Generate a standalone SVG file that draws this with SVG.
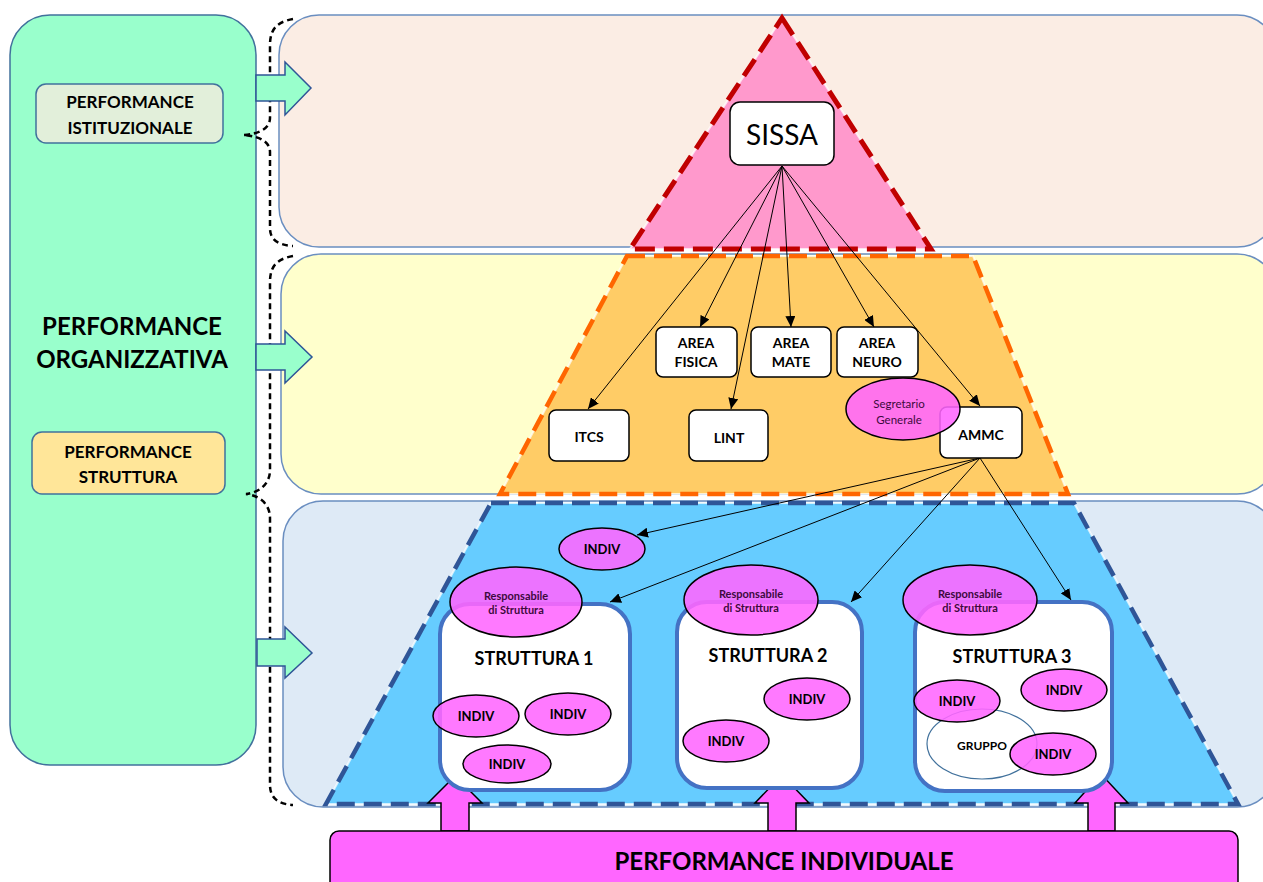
<svg xmlns="http://www.w3.org/2000/svg" width="1263" height="882" viewBox="0 0 1263 882">
<defs>
<marker id="ah" markerUnits="userSpaceOnUse" markerWidth="11" markerHeight="10" refX="11" refY="5" orient="auto">
<path d="M0,0 L11,5 L0,10 z" fill="#000"/>
</marker>
<style>
.t{font-family:Lato,"Liberation Sans",sans-serif;fill:#000;text-anchor:middle;dominant-baseline:central}
.b{font-weight:bold}
.band{stroke:#6a8ec0;stroke-width:1.5}
.garrow{fill:#99FFCC;stroke:#2F5597;stroke-width:1.5}
.parrow{fill:#FF66FF;stroke:#000;stroke-width:1.5}
.box{fill:#fff;stroke:#000;stroke-width:1.5}
.pink{fill:#FF66FF;fill-opacity:0.88;stroke:#000;stroke-width:1.5}
.str{fill:#fff;stroke:#4472C4;stroke-width:4}
.conn{stroke:#000;stroke-width:1;fill:none;marker-end:url(#ah)}
.brace{fill:none;stroke:#000;stroke-width:2.5;stroke-dasharray:6 4}
.purp{fill:#3d0a3d}
</style>
</defs>
<rect width="1263" height="882" fill="#fff"/>

<g id="background">
<rect class="band" x="279" y="15" width="998" height="232" rx="40" fill="#FBEDE4"/>
<rect class="band" x="281" y="254" width="996" height="240" rx="40" fill="#FFFFCC"/>
<rect class="band" x="283" y="501" width="994" height="306" rx="40" fill="#DEEAF6"/>
<polygon points="782,18 931,249 630,249" fill="#FF99CC"/>
<polygon points="782,18 931,249 630,249" fill="none" stroke="#fff" stroke-width="2" stroke-opacity="0.7"/>
<polygon points="782,18 931,249 630,249" fill="none" stroke="#C00000" stroke-width="5" stroke-dasharray="20 9"/>
<polygon points="627,256 973,256 1068,494 500,494" fill="#FFCC66"/>
<polygon points="627,256 973,256 1068,494 500,494" fill="none" stroke="#fff" stroke-width="2" stroke-opacity="0.7"/>
<polygon points="627,256 973,256 1068,494 500,494" fill="none" stroke="#FF6600" stroke-width="4.5" stroke-dasharray="18 9"/>
<polygon points="491,503 1074,503 1238,804 326,804" fill="#66CCFF"/>
<polygon points="491,503 1074,503 1238,804 326,804" fill="none" stroke="#fff" stroke-width="2" stroke-opacity="0.7"/>
<polygon points="491,503 1074,503 1238,804 326,804" fill="none" stroke="#2F5597" stroke-width="4.5" stroke-dasharray="18 9"/>
</g>

<g id="performance-organizzativa">
<rect x="10" y="15" width="246" height="750" rx="40" fill="#99FFCC" stroke="#41719C" stroke-width="1.5"/>
<text class="t b" x="132" y="325" font-size="24">PERFORMANCE</text>
<text class="t b" x="132" y="358" font-size="24">ORGANIZZATIVA</text>
</g>
<g id="performance-istituzionale">
<rect x="36" y="84" width="187" height="59" rx="10" fill="#E2EFDA" stroke="#41719C" stroke-width="1.5"/>
<text class="t b" x="130" y="101" font-size="17">PERFORMANCE</text>
<text class="t b" x="130" y="127" font-size="17">ISTITUZIONALE</text>
</g>
<g id="performance-struttura">
<rect x="32" y="432" width="193" height="62" rx="10" fill="#FFE699" stroke="#41719C" stroke-width="1.5"/>
<text class="t b" x="128" y="451" font-size="17">PERFORMANCE</text>
<text class="t b" x="128" y="476" font-size="17">STRUTTURA</text>
</g>

<g id="connectors">
<path class="brace" d="M293,19 C276,22 270,30 270,45 L270,118 C270,128 260,134 243,135 C260,136 270,142 270,152 L270,228 C270,240 278,245 293,246"/>
<path class="brace" d="M293,256 C276,259 270,267 270,282 L270,470 C270,482 262,492 246,494 C262,496 270,506 270,518 L270,785 C270,798 278,804 293,805"/>
<polygon class="garrow" points="256,75 285,75 285,62 311,88 285,115 285,101 256,101"/>
<polygon class="garrow" points="256,344 285,344 285,331 312,357 285,383 285,370 256,370"/>
<polygon class="garrow" points="257,639 285,639 285,627 312,653 285,678 285,666 257,666"/>
<line class="conn" x1="782" y1="166" x2="588" y2="409"/>
<line class="conn" x1="782" y1="166" x2="700" y2="327"/>
<line class="conn" x1="782" y1="166" x2="731" y2="409"/>
<line class="conn" x1="782" y1="166" x2="791" y2="327"/>
<line class="conn" x1="782" y1="166" x2="874" y2="327"/>
<line class="conn" x1="782" y1="166" x2="980" y2="406"/>
<line class="conn" x1="980" y1="458" x2="637" y2="535"/>
<line class="conn" x1="980" y1="458" x2="610" y2="602"/>
<line class="conn" x1="980" y1="458" x2="851" y2="602"/>
<line class="conn" x1="980" y1="458" x2="1071" y2="600"/>
<polygon class="parrow" points="441,831 441,803 428,803 455,776 482,803 469,803 469,831"/>
<polygon class="parrow" points="768,831 768,803 755,803 782,775 809,803 796,803 796,831"/>
<polygon class="parrow" points="1088,831 1088,803 1075,803 1101,774 1128,803 1115,803 1115,831"/>
</g>

<g id="sissa">
<rect class="box" x="730" y="102" width="104" height="63" rx="10"/>
<text class="t" x="782" y="134" font-size="28">SISSA</text>
</g>
<g id="area-fisica">
<rect class="box" x="656" y="327" width="81" height="50" rx="7"/>
<text class="t b" x="696" y="342" font-size="14">AREA</text>
<text class="t b" x="696" y="361" font-size="14">FISICA</text>
</g>
<g id="area-mate">
<rect class="box" x="751" y="327" width="80" height="50" rx="7"/>
<text class="t b" x="791" y="342" font-size="14">AREA</text>
<text class="t b" x="791" y="361" font-size="14">MATE</text>
</g>
<g id="area-neuro">
<rect class="box" x="837" y="327" width="81" height="50" rx="7"/>
<text class="t b" x="877" y="342" font-size="14">AREA</text>
<text class="t b" x="877" y="361" font-size="14">NEURO</text>
</g>
<g id="itcs">
<rect class="box" x="549" y="410" width="80" height="51" rx="7"/>
<text class="t b" x="589" y="436" font-size="14">ITCS</text>
</g>
<g id="lint">
<rect class="box" x="689" y="410" width="79" height="51" rx="7"/>
<text class="t b" x="729" y="437" font-size="14">LINT</text>
</g>
<g id="ammc">
<rect class="box" x="940" y="407" width="82" height="51" rx="7"/>
<text class="t b" x="981" y="434" font-size="14">AMMC</text>
</g>
<g id="segretario-generale">
<ellipse class="pink" cx="903" cy="409" rx="57" ry="31"/>
<text class="t purp" x="899" y="403" font-size="11.5">Segretario</text>
<text class="t purp" x="899" y="419" font-size="11.5">Generale</text>
</g>

<g id="indiv-top">
<ellipse class="pink" cx="602" cy="549" rx="43" ry="21"/>
<text class="t b" x="602" y="549" font-size="13">INDIV</text>
</g>

<g id="struttura-1">
<rect class="str" x="440" y="604" width="190" height="186" rx="30"/>
<text class="t b" x="534" y="658" font-size="18">STRUTTURA 1</text>
<ellipse class="pink" cx="516" cy="602" rx="66" ry="35"/>
<text class="t b purp" x="516" y="595" font-size="11">Responsabile</text>
<text class="t b purp" x="516" y="609" font-size="11">di Struttura</text>
<ellipse class="pink" cx="476" cy="716" rx="43" ry="21"/>
<text class="t b" x="476" y="716" font-size="13">INDIV</text>
<ellipse class="pink" cx="568" cy="714" rx="43" ry="21"/>
<text class="t b" x="568" y="714" font-size="13">INDIV</text>
<ellipse class="pink" cx="507" cy="764" rx="44" ry="19"/>
<text class="t b" x="507" y="764" font-size="13">INDIV</text>
</g>

<g id="struttura-2">
<rect class="str" x="677" y="602" width="185" height="186" rx="30"/>
<text class="t b" x="768" y="655" font-size="18">STRUTTURA 2</text>
<ellipse class="pink" cx="751" cy="600" rx="67" ry="35"/>
<text class="t b purp" x="751" y="593" font-size="11">Responsabile</text>
<text class="t b purp" x="751" y="607" font-size="11">di Struttura</text>
<ellipse class="pink" cx="807" cy="699" rx="43" ry="21"/>
<text class="t b" x="807" y="699" font-size="13">INDIV</text>
<ellipse class="pink" cx="726" cy="741" rx="43" ry="21"/>
<text class="t b" x="726" y="741" font-size="13">INDIV</text>
</g>

<g id="struttura-3">
<rect class="str" x="915" y="602" width="197" height="189" rx="30"/>
<text class="t b" x="1012" y="656" font-size="18">STRUTTURA 3</text>
<ellipse class="pink" cx="970" cy="600" rx="67" ry="35"/>
<text class="t b purp" x="970" y="593" font-size="11">Responsabile</text>
<text class="t b purp" x="970" y="607" font-size="11">di Struttura</text>
<ellipse cx="982" cy="744" rx="55" ry="35" fill="none" stroke="#41719C" stroke-width="1.2"/>
<text class="t b" x="982" y="745" font-size="12">GRUPPO</text>
<ellipse class="pink" cx="957" cy="701" rx="43" ry="21"/>
<text class="t b" x="957" y="701" font-size="13">INDIV</text>
<ellipse class="pink" cx="1064" cy="690" rx="43" ry="21"/>
<text class="t b" x="1064" y="690" font-size="13">INDIV</text>
<ellipse class="pink" cx="1053" cy="754" rx="43" ry="21"/>
<text class="t b" x="1053" y="754" font-size="13">INDIV</text>
</g>

<g id="performance-individuale">
<rect x="330" y="831" width="908" height="70" rx="9" fill="#FF66FF" stroke="#000" stroke-width="1.5"/>
<text class="t b" x="784" y="860" font-size="24">PERFORMANCE INDIVIDUALE</text>
</g>
</svg>
